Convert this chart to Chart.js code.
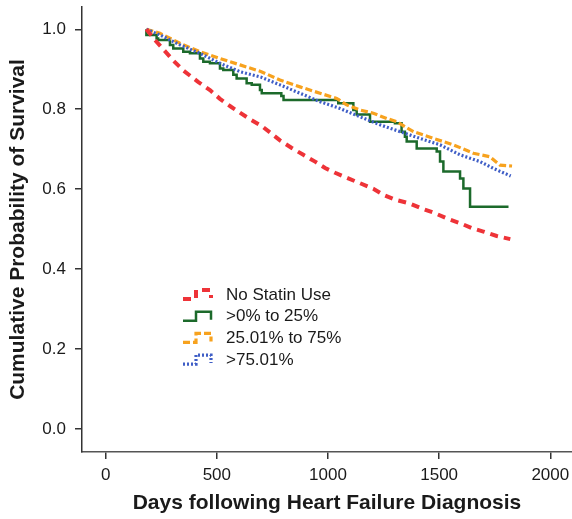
<!DOCTYPE html>
<html>
<head>
<meta charset="utf-8">
<script src="https://cdn.jsdelivr.net/npm/chart.js@4/dist/chart.umd.min.js"></script>
<style>
  html, body { margin: 0; padding: 0; background: #fff; }
  canvas { display: block; }
</style>
</head>
<body>
<canvas id="kmChart" width="572" height="519"></canvas>
<script>
// group names (legend order)
const groupNames = ['No Statin Use', '>0% to 25%', '25.01% to 75%', '>75.01%'];

// No statin use
const noStatinDays = [183, 222, 259, 304, 349, 417, 469, 514, 567, 649, 702, 739, 784, 837, 889, 942, 987, 1032, 1091, 1144, 1204, 1249, 1301, 1369, 1421, 1481, 1534, 1594, 1646, 1699, 1759, 1820];
const noStatinSurv = [1.0, 0.973, 0.950, 0.922, 0.897, 0.868, 0.848, 0.826, 0.805, 0.775, 0.758, 0.742, 0.722, 0.703, 0.686, 0.669, 0.653, 0.641, 0.627, 0.615, 0.601, 0.586, 0.574, 0.564, 0.552, 0.540, 0.527, 0.515, 0.503, 0.494, 0.483, 0.475];

// >0% to 25% (step curve)
const lowDays = [183, 229, 236, 289, 304, 349, 379, 424, 439, 469, 514, 529, 574, 589, 634, 657, 694, 702, 790, 800, 1046, 1114, 1129, 1189, 1301, 1331, 1346, 1354, 1399, 1489, 1504, 1519, 1594, 1609, 1639, 1766, 1812];
const lowSurv = [1.0, 0.986, 0.977, 0.973, 0.961, 0.952, 0.944, 0.940, 0.927, 0.919, 0.915, 0.902, 0.898, 0.886, 0.877, 0.865, 0.861, 0.848, 0.840, 0.833, 0.823, 0.815, 0.798, 0.787, 0.769, 0.765, 0.744, 0.731, 0.719, 0.702, 0.694, 0.669, 0.644, 0.627, 0.602, 0.556, 0.556];

// 25.01% to 75%
const midDays = [183, 244, 334, 424, 514, 604, 700, 784, 874, 964, 1039, 1084, 1144, 1204, 1264, 1309, 1384, 1474, 1564, 1654, 1729, 1774, 1828];
const midSurv = [1.0, 0.990, 0.965, 0.944, 0.927, 0.911, 0.894, 0.873, 0.856, 0.840, 0.827, 0.811, 0.798, 0.790, 0.777, 0.769, 0.744, 0.727, 0.711, 0.690, 0.681, 0.660, 0.658];

// >75.01%
const highDays = [183, 244, 334, 424, 514, 604, 700, 784, 874, 964, 1054, 1144, 1234, 1324, 1414, 1504, 1594, 1684, 1744, 1822];
const highSurv = [1.0, 0.986, 0.961, 0.940, 0.915, 0.894, 0.880, 0.861, 0.840, 0.819, 0.802, 0.781, 0.761, 0.744, 0.727, 0.711, 0.686, 0.669, 0.652, 0.633];

// tick labels
const xTicks = [0, 500, 1000, 1500, 2000];
const yTicks = [0, 0.2, 0.4, 0.6, 0.8, 1.0];

function toPoints(days, surv) {
    return days.map((d, i) => ({ x: d, y: surv[i] }));
}

const fontFamily = '"Liberation Sans", Arial, sans-serif';

// legend drawn inside the plot, with a little step shape per group
const kmLegend = {
    id: 'kmLegend',
    afterDatasetsDraw(chart) {
        const ctx = chart.ctx;
        ctx.save();
        groupNames.forEach(function(name, i) {
            const ds = chart.data.datasets[i];
            const y = 295 + i * 21.7;
            ctx.beginPath();
            ctx.moveTo(183, y + 4);
            ctx.lineTo(196, y + 4);
            ctx.lineTo(196, y - 5);
            ctx.lineTo(211, y - 5);
            ctx.lineTo(211, y + 3);
            ctx.strokeStyle = ds.borderColor;
            ctx.lineWidth = ds.borderWidth;
            ctx.setLineDash(ds.borderDash || []);
            ctx.stroke();
            ctx.setLineDash([]);
            ctx.fillStyle = '#1a1a1a';
            ctx.font = '17px ' + fontFamily;
            ctx.textBaseline = 'middle';
            ctx.textAlign = 'left';
            ctx.fillText(name, 226, y);
        });
        ctx.restore();
    }
};

const ctx = document.getElementById('kmChart').getContext('2d');
new Chart(ctx, {
    type: 'line',
    data: {
        datasets: [{
            label: groupNames[0],
            data: toPoints(noStatinDays, noStatinSurv),
            borderColor: '#ee3338',
            borderWidth: 4,
            borderDash: [8, 6],
            order: 1
        }, {
            label: groupNames[1],
            data: toPoints(lowDays, lowSurv),
            borderColor: '#1c6a2b',
            borderWidth: 2.5,
            stepped: 'after',
            order: 4
        }, {
            label: groupNames[2],
            data: toPoints(midDays, midSurv),
            borderColor: '#f7a21e',
            borderWidth: 3.2,
            borderDash: [7, 3],
            order: 3
        }, {
            label: groupNames[3],
            data: toPoints(highDays, highSurv),
            borderColor: '#3f5ec6',
            borderWidth: 3.2,
            borderDash: [2, 2],
            order: 2
        }]
    },
    options: {
        responsive: false,
        animation: false,
        events: [],
        layout: { padding: { top: 7, right: 0, bottom: 0, left: 0 } },
        elements: {
            point: { radius: 0 },
            line: { tension: 0, fill: false, borderCapStyle: 'butt' }
        },
        plugins: {
            legend: { display: false },
            tooltip: { enabled: false }
        },
        scales: {
            x: {
                type: 'linear',
                min: -106.6,
                max: 2097.6,
                afterFit: function(scale) {
                    scale.height = 67;
                    scale.paddingLeft = 0;
                    scale.paddingRight = 0;
                },
                afterBuildTicks: function(scale) {
                    scale.ticks = xTicks.map(v => ({ value: v }));
                },
                border: { display: true, color: '#555', width: 1.5 },
                grid: { drawOnChartArea: false, drawTicks: true, tickLength: 7, color: '#333', lineWidth: 1.5 },
                ticks: {
                    padding: 6,
                    maxRotation: 0,
                    color: '#1a1a1a',
                    font: { family: fontFamily, size: 17 },
                    callback: v => String(v)
                },
                title: {
                    display: true,
                    text: 'Days following Heart Failure Diagnosis',
                    color: '#1a1a1a',
                    font: { family: fontFamily, size: 21, weight: 'bold' },
                    padding: { top: 0, bottom: 3.5 }
                }
            },
            y: {
                type: 'linear',
                min: -0.0575,
                max: 1.0558,
                afterFit: function(scale) {
                    scale.width = 82;
                    scale.paddingTop = 0;
                    scale.paddingBottom = 0;
                },
                afterBuildTicks: function(scale) {
                    scale.ticks = yTicks.map(v => ({ value: v }));
                },
                border: { display: true, color: '#333', width: 1.5 },
                grid: { drawOnChartArea: false, drawTicks: true, tickLength: 7, color: '#333', lineWidth: 1.5 },
                ticks: {
                    padding: 9,
                    color: '#1a1a1a',
                    font: { family: fontFamily, size: 17 },
                    callback: v => Number(v).toFixed(1)
                },
                title: {
                    display: true,
                    text: 'Cumulative Probability of Survival',
                    color: '#1a1a1a',
                    font: { family: fontFamily, size: 21, weight: 'bold' },
                    padding: { top: 6, bottom: 0 }
                }
            }
        }
    },
    plugins: [kmLegend]
});
</script>
</body>
</html>
